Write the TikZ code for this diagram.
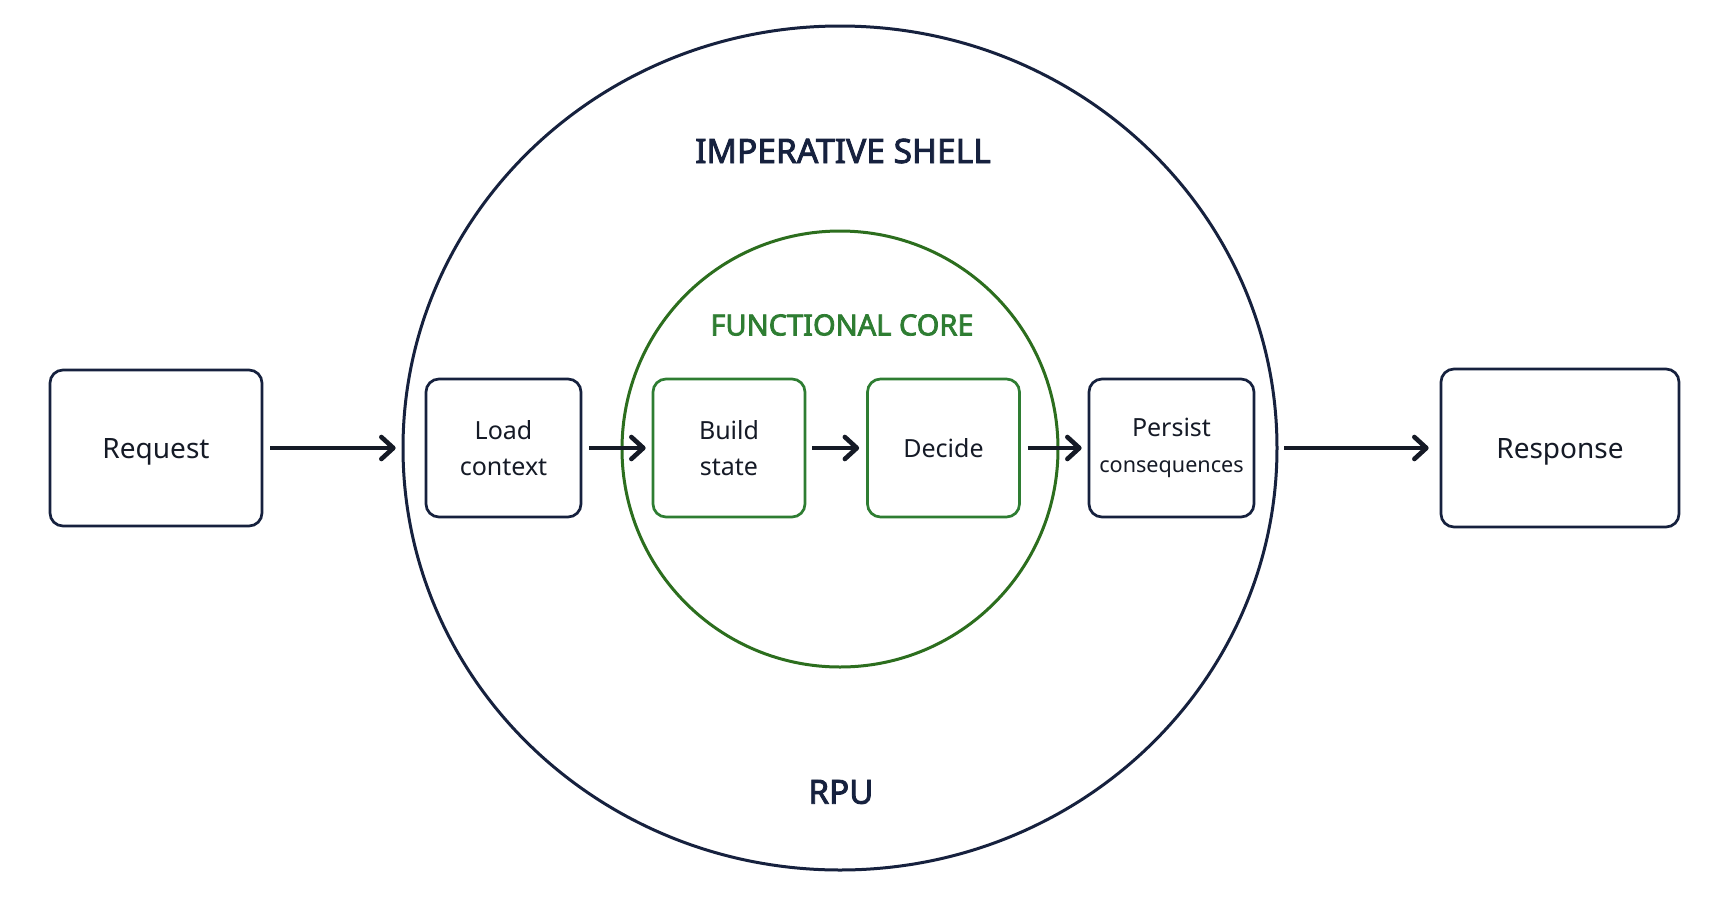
\documentclass[tikz,border=0pt]{standalone}
\usepackage{fontspec}
\setmainfont{Noto Sans}
\newfontfamily\headfont[FakeBold=2.6]{Noto Sans}
\usetikzlibrary{arrows.meta, positioning}
\definecolor{rNavy} {HTML}{16213E}
\definecolor{rInk}  {HTML}{151A26}
\definecolor{rGreen}{HTML}{2E7D32}
\definecolor{rRing} {HTML}{2C6E1E}

\begin{document}
\begin{tikzpicture}[x=0.5pt, y=-0.5pt,
    box/.style={draw=rNavy, line width=1.35pt, rounded corners=6.5pt, align=center,
      inner sep=0pt, text=rInk, font=\fontsize{12.5}{18}\selectfont},
    endbox/.style={box, minimum width=106pt, minimum height=78pt, text depth=0pt,
      font=\fontsize{14}{18}\selectfont},
    stepbox/.style={box, minimum width=76pt, minimum height=69pt},
    corebox/.style={stepbox, draw=rGreen},
    flow/.style={-{Straight Barb[round, length=6pt, width=11pt]}, line width=2.3pt, draw=rInk},
    title/.style={font=\headfont\fontsize{16.8}{20}\selectfont, text=rNavy}]

  \useasboundingbox (0,0) rectangle (1736,906);
  \fill[white] (0,0) rectangle (1736,906);

  % Shell and core rings
  \draw[rNavy, line width=1.5pt] (840,448) ellipse [x radius=437, y radius=422];
  \draw[rRing, line width=1.5pt] (840,449) circle [radius=218];

  \node[title] (shell) at (843,151) {IMPERATIVE SHELL};
  \node[title, text=rGreen, font=\headfont\fontsize{14.5}{18}\selectfont] (core) at (842,325) {FUNCTIONAL CORE};
  \node[title, font=\headfont\fontsize{16.6}{18}\selectfont] (rpu) at (841,792) {RPU};

  % Steps
  \node[endbox] (request) at (156,448) {Request};
  \node[stepbox, minimum width=77.5pt] (load) at (503.5,448) {Load\\context};
  \node[corebox] (build) at (729,448) {Build\\state};
  \node[corebox] (decide) at (943.5,448) {Decide};
  \node[stepbox, minimum width=82.5pt] (persist) at (1171.5,448)
    {Persist\\{\fontsize{10.8}{18}\selectfont consequences}};
  \node[endbox, minimum width=119pt, minimum height=79pt] (response) at (1560,448) {Response};

  % Flow
  \draw[flow, shorten <=3.5pt, shorten >=14.5pt] (request) -- (load);
  \draw[flow, shorten <=3.5pt, shorten >=3pt] (load) -- (build);
  \draw[flow, shorten <=3pt, shorten >=3.5pt] (build) -- (decide);
  \draw[flow, shorten <=3.5pt, shorten >=3pt] (decide) -- (persist);
  \draw[flow, shorten <=14.5pt, shorten >=5.5pt] (persist) -- (response);
\end{tikzpicture}
\end{document}
